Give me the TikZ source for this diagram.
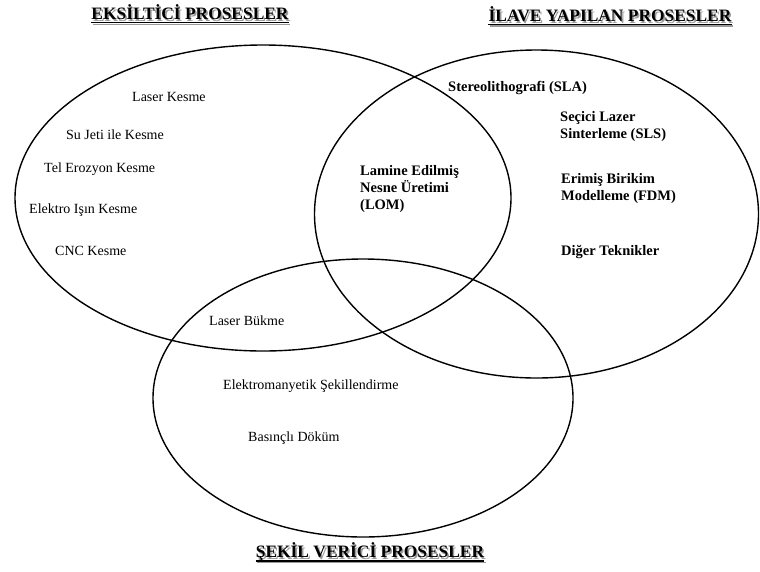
\documentclass[tikz,border=0pt]{standalone}
\usepackage{fontspec}
\setmainfont{Liberation Serif}
\usetikzlibrary{shapes.geometric,calc}

\tikzset{
  set/.style={draw=black, line width=1.4pt, ellipse, inner sep=0pt, fill=none},
  plain/.style={font=\fontsize{14}{16.5}\selectfont, inner sep=0pt, anchor=west, align=left},
  strong/.style={font=\bfseries\fontsize{14.5}{17}\selectfont, inner sep=0pt, anchor=west, align=left},
  titlefont/.style={font=\bfseries\fontsize{17.4}{20}\selectfont, inner sep=0pt},
}

% heading text with a grey drop shadow set behind it in the same box
\newcommand\shadowed[1]{%
  \rlap{\hspace{1.6pt}\raisebox{-1.6pt}{\textcolor{black!40}{#1}}}#1}

% bold heading with shadow and a shadowed underline
\newcommand\shadowtitle[3]{%
  \node[titlefont] (#1) at (#2) {\shadowed{#3}};
  \draw[black!40, line width=1.3pt] ($(#1.base west)+(1.6,4.6)$) -- ($(#1.base east)+(1.6,4.6)$);
  \draw[line width=1.3pt] ($(#1.base west)+(0,3)$) -- ($(#1.base east)+(0,3)$);
}

\begin{document}
\begin{tikzpicture}[x=1pt, y=-1pt]
\useasboundingbox (0,0) rectangle (760,571);

% the three process families
\node[set, minimum width=496pt, minimum height=306pt] (sub) at (263,198) {};
\node[set, minimum width=444pt, minimum height=328pt] (add) at (536.5,214) {};
\node[set, minimum width=420pt, minimum height=278pt] (form) at (363,398) {};

% headings
\coordinate (tsub) at (190,13);
\coordinate (tadd) at (610,15);
\coordinate (tform) at (370,553);
\shadowtitle{hsub}{tsub}{EKSİLTİCİ PROSESLER}
\shadowtitle{hadd}{tadd}{İLAVE YAPILAN PROSESLER}
\shadowtitle{hform}{tform}{ŞEKİL VERİCİ PROSESLER}

% subtractive processes
\node[plain] (lk) at (132,97) {Laser Kesme};
\node[plain] (sj) at (66,135) {Su Jeti ile Kesme};
\node[plain] (te) at (44,169) {Tel Erozyon Kesme};
\node[plain] (ei) at (29,210) {Elektro Işın Kesme};
\node[plain] (cnc) at (55,251) {CNC Kesme};

% additive processes
\node[strong] (sla) at (448,88) {Stereolithografi (SLA)};
\node[strong] (sls) at (560,127) {Seçici Lazer\\Sinterleme (SLS)};
\node[strong] (fdm) at (561,189) {Erimiş Birikim\\Modelleme (FDM)};
\node[strong] (dt) at (561,252) {Diğer Teknikler};
\node[strong] (lom) at (360,189) {Lamine Edilmiş\\Nesne Üretimi\\(LOM)};

% forming processes
\node[plain] (lb) at (209,321) {Laser Bükme};
\node[plain] (es) at (223,386) {Elektromanyetik Şekillendirme};
\node[plain] (bd) at (248,438) {Basınçlı Döküm};
\end{tikzpicture}
\end{document}
